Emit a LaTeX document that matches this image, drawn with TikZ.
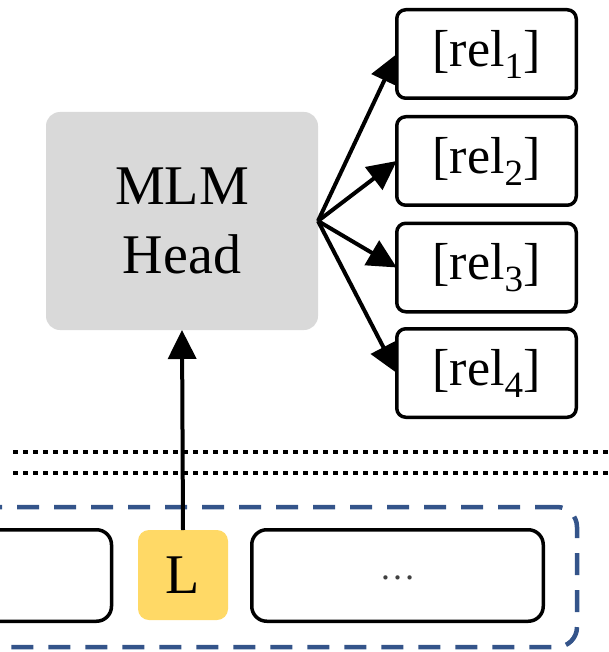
\documentclass[tikz,border=0pt]{standalone}
\usepackage{fontspec}
\setmainfont{Liberation Serif}
\usetikzlibrary{arrows.meta}
\definecolor{headgray}{RGB}{217,217,217}
\definecolor{tokyellow}{RGB}{255,217,102}
\definecolor{frameblue}{RGB}{52,84,138}
\newcommand{\relsub}[1]{\raisebox{-12pt}{\fontsize{37}{37}\selectfont #1}}
\begin{document}
\begin{tikzpicture}[x=1pt,y=-1pt,
  every node/.style={inner sep=0pt, outer sep=0pt},
  headbox/.style={fill=headgray, rounded corners=14pt, minimum width=272pt,
    minimum height=218pt, align=center, font=\fontsize{56}{69}\selectfont},
  relbox/.style={draw, line width=3.5pt, rounded corners=9pt, minimum width=179.5pt,
    minimum height=88.5pt, font=\fontsize{52}{60}\selectfont},
  tokbox/.style={draw, line width=3.5pt, rounded corners=15pt, minimum height=91.5pt},
  keytok/.style={fill=tokyellow, rounded corners=11pt, minimum width=90pt,
    minimum height=90pt, font=\fontsize{56}{60}\selectfont},
  groupframe/.style={draw=frameblue, line width=4.5pt, dash pattern=on 22pt off 15pt,
    rounded corners=20pt},
  sepline/.style={line width=4.5pt, dash pattern=on 4.5pt off 5.5pt},
  arrowline/.style={line width=4pt, -{Triangle[length=29pt,width=28pt]}},
]
\useasboundingbox (0,0) rectangle (608,652);
\clip (0,0) rectangle (608,652);

% MLM head and its four relation outputs
\node[headbox] (head) at (182,221) {MLM\\Head};
\node[relbox] (r1) at (486.5,54)  {[rel\relsub{1}]};
\node[relbox] (r2) at (486.5,161) {[rel\relsub{2}]};
\node[relbox] (r3) at (486.5,267.5) {[rel\relsub{3}]};
\node[relbox] (r4) at (486.5,373) {[rel\relsub{4}]};

% separator lines
\coordinate (s1a) at (13,452);  \coordinate (s1b) at (608,452);
\coordinate (s2a) at (13,473);  \coordinate (s2b) at (608,473);
\draw[sepline] (s1a) -- (s1b);
\draw[sepline] (s2a) -- (s2b);

% input token group
\node[groupframe, minimum width=657pt, minimum height=140pt] (frame) at (248.5,577) {};
\node[tokbox, minimum width=150pt] (tokleft) at (36.5,575.5) {};
\node[keytok] (tokL) at (183,575) {L};
\node[tokbox, minimum width=291.5pt] (tokrest) at (397.5,575.5) {};
\node[anchor=base, font=\fontsize{36}{36}\selectfont, text=black!75] (dots) at (tokrest.center |- 0,579) {…};

% connectors
\draw[arrowline] (tokL.north) -- (head.south);
\foreach \r in {r1,r2,r3,r4}
  \draw[arrowline] (head.east) -- (\r.west);
\end{tikzpicture}
\end{document}
